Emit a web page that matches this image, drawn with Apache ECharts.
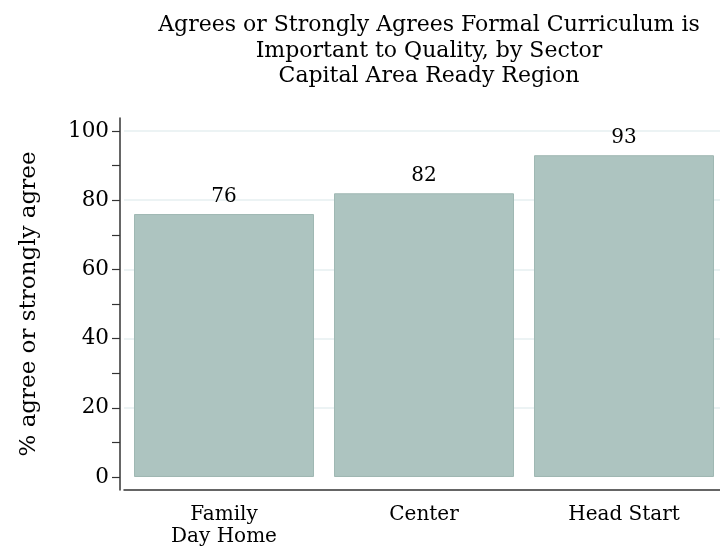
<!DOCTYPE html>
<html>
<head>
<meta charset="utf-8">
<script src="https://cdn.jsdelivr.net/npm/echarts@6/dist/echarts.min.js"></script>
<style>
  html, body { margin: 0; padding: 0; background: #fff; overflow: hidden; }
  #chart { width: 724px; height: 548px; }
</style>
</head>
<body>
<div id="chart"></div>
<script>
const sectors = ["Family\nDay Home", "Center", "Head Start"];
const agreePct = [76, 82, 93];
const tickValues = [0, 10, 20, 30, 40, 50, 60, 70, 80, 90, 100];
const labelValues = [0, 20, 40, 60, 80, 100];
const gridValues = [20, 40, 60, 80, 100];

const chart = echarts.init(document.getElementById("chart"));
const serif = "DejaVu Serif";

const options = {
  animation: false,
  title: {
    text: "Agrees or Strongly Agrees Formal Curriculum is\nImportant to Quality, by Sector\nCapital Area Ready Region",
    left: 424,
    top: 8,
    textAlign: "center",
    textStyle: {
      fontFamily: serif,
      fontWeight: "normal",
      fontSize: 22,
      lineHeight: 25.5,
      color: "#000",
    },
  },
  grid: { left: 124, right: 0, top: 118, bottom: 58 },
  xAxis: {
    type: "category",
    data: sectors,
    axisLine: { onZero: false, lineStyle: { color: "#333", width: 1.5 } },
    axisTick: { show: false },
    axisLabel: {
      margin: 14,
      fontFamily: serif,
      fontSize: 20,
      lineHeight: 22,
      color: "#000",
    },
  },
  yAxis: {
    type: "value",
    min: -3.76,
    max: 103.76,
    offset: 4,
    name: "% agree or strongly agree",
    nameLocation: "middle",
    nameGap: 79,
    nameTextStyle: { fontFamily: serif, fontSize: 23, color: "#000" },
    axisLine: { show: true, lineStyle: { color: "#333", width: 1.5 } },
    axisTick: {
      show: true,
      length: 8,
      customValues: tickValues,
      lineStyle: { color: "#333", width: 1.2 },
    },
    axisLabel: {
      customValues: labelValues,
      margin: 11,
      fontFamily: serif,
      fontSize: 21.5,
      color: "#000",
    },
    splitLine: { show: false },
  },
  series: [
    {
      type: "line",
      data: [],
      z: 1,
      silent: true,
      markLine: {
        z: 1,
        symbol: "none",
        silent: true,
        label: { show: false },
        lineStyle: { color: "#e6eff1", width: 1.5, type: "solid" },
        data: gridValues.map((v) => ({ yAxis: v })),
      },
    },
    {
      type: "bar",
      data: agreePct,
      z: 3,
      barWidth: 180,
      itemStyle: { color: "#adc4c0", borderColor: "#9fb8b3", borderWidth: 1 },
      label: {
        show: true,
        position: "top",
        distance: 7,
        fontFamily: serif,
        fontSize: 20,
        color: "#000",
      },
    },
  ],
};

chart.setOption(options);
</script>
</body>
</html>
